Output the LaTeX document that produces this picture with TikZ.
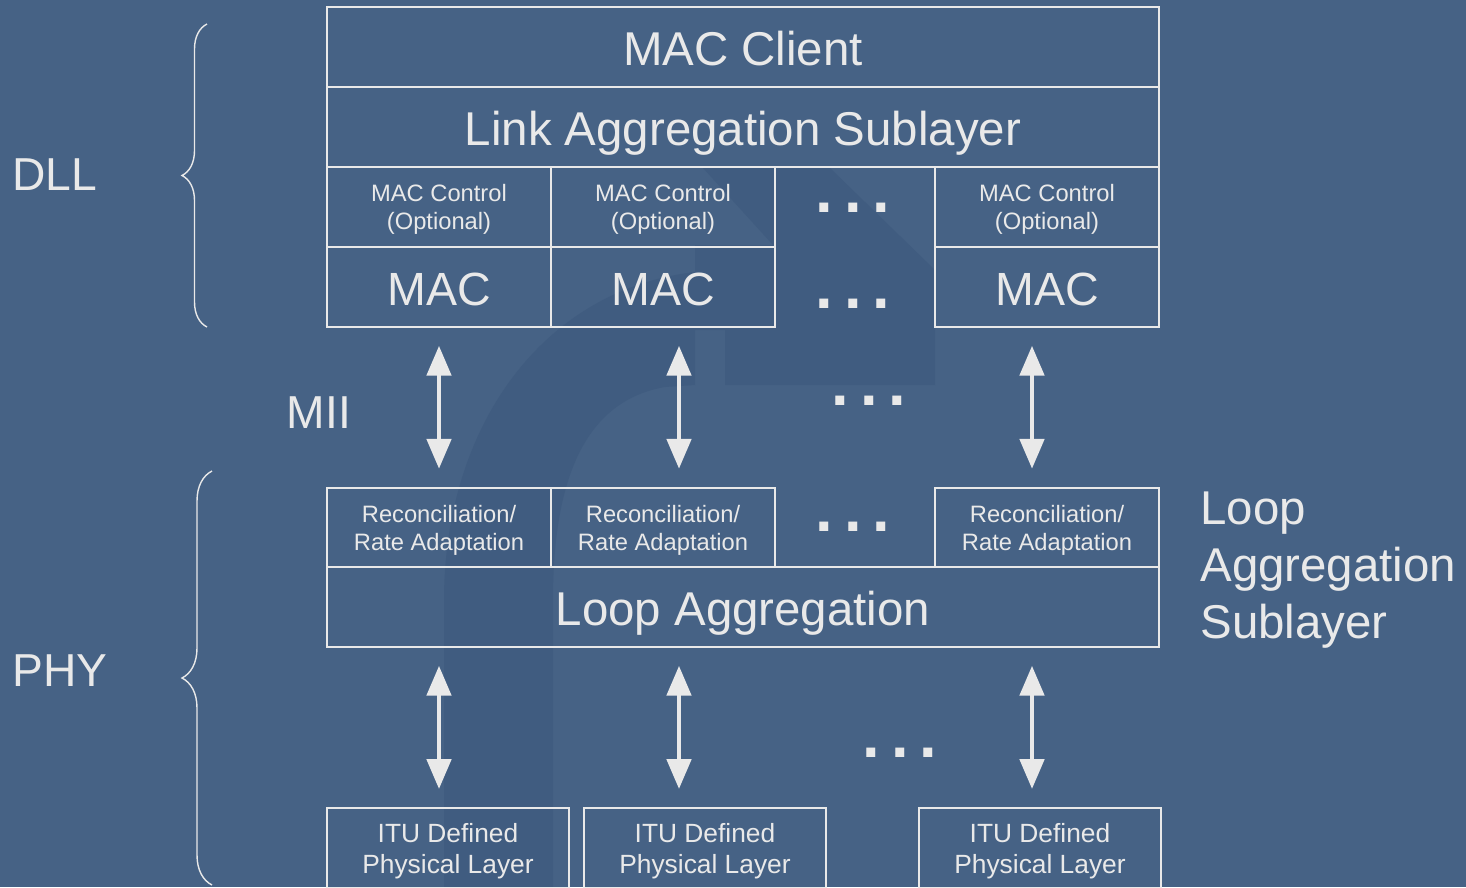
\documentclass[tikz,border=0pt]{standalone}
\usepackage{fontspec}
\setmainfont{Liberation Sans}
\usepackage{tikz}
\usetikzlibrary{arrows.meta}
\usetikzlibrary{decorations.pathreplacing}
\definecolor{slide}{HTML}{466285}
\definecolor{slidedark}{HTML}{405C80}
\definecolor{ink}{HTML}{E9E9E9}
\newcommand{\gapdots}{.\hspace{6.2pt}.\hspace{6.2pt}.}

\begin{document}
\begin{tikzpicture}[x=0.02cm, y=-0.02cm]
  \tikzset{LAYER/.style={draw=ink, text=ink, line width=1.1pt, inner sep=0pt, align=center}}
  \tikzset{WIDE/.style={LAYER, minimum width=16.64cm, minimum height=1.59cm, text height=21.4pt, text depth=0pt, font=\fontsize{27}{32}\selectfont}}
  \tikzset{CTL/.style={LAYER, minimum width=4.48cm, minimum height=1.59cm, text depth=0pt, font=\fontsize{13.5}{16}\selectfont}}
  \tikzset{MACBOX/.style={LAYER, minimum width=4.48cm, minimum height=1.59cm, text height=20.6pt, text depth=0pt, font=\fontsize{26.5}{32}\selectfont}}
  \tikzset{ITU/.style={LAYER, minimum width=4.84cm, minimum height=1.6cm, text depth=0pt, font=\fontsize{15}{17.6}\selectfont}}
  \tikzset{SIDE/.style={text=ink, inner sep=0pt, font=\fontsize{26.3}{32}\selectfont}}
  \tikzset{DOTS/.style={text=ink, inner sep=0pt, anchor=base, font=\fontsize{36}{36}\selectfont\bfseries}}
  \tikzset{BIARROW/.style={draw=ink, line width=2.8pt, {Triangle[width=13.6pt,length=17pt]}-{Triangle[width=13.6pt,length=17pt]}, shorten <=0.36cm, shorten >=0.36cm}}
  \tikzset{BRACE/.style={draw=ink, line width=0.8pt, decorate, decoration={brace, amplitude=#1}}}

  \useasboundingbox (0,0) rectangle (1466,887);
  \clip (0,0) rectangle (1466,887);
  \fill[slide] (0,0) rectangle (1466,887);

  % faint logo in the background
  \fill[slidedark] (444,887) -- (444,600) .. controls (444,430) and (540,290) .. (695,272) -- (695,385) -- (665,387) .. controls (590,400) and (553,470) .. (553,600) -- (553,887) -- cycle;
  \fill[slidedark] (703,168) -- (830,168) -- (935,270) -- (935,385) -- (725,385) -- (725,330) -- (695,330) -- (695,245) -- (773,245) -- cycle;

  \node[WIDE] (client)  at (743,47)  {MAC Client};
  \node[WIDE] (linkagg) at (743,127) {Link Aggregation Sublayer};

  \node[CTL] (ctl1) at (439,207)  {MAC Control\\(Optional)};
  \node[CTL] (ctl2) at (663,207)  {MAC Control\\(Optional)};
  \node[CTL] (ctl3) at (1047,207) {MAC Control\\(Optional)};

  \node[MACBOX] (mac1) at (439,287)  {MAC};
  \node[MACBOX] (mac2) at (663,287)  {MAC};
  \node[MACBOX] (mac3) at (1047,287) {MAC};

  \node[CTL] (rec1) at (439,527.5)  {Reconciliation/\\Rate Adaptation};
  \node[CTL] (rec2) at (663,527.5)  {Reconciliation/\\Rate Adaptation};
  \node[CTL] (rec3) at (1047,527.5) {Reconciliation/\\Rate Adaptation};

  \node[WIDE] (loopagg) at (743,607) {Loop Aggregation};

  \node[ITU] (itu1) at (448,848)  {ITU Defined\\Physical Layer};
  \node[ITU] (itu2) at (705,848)  {ITU Defined\\Physical Layer};
  \node[ITU] (itu3) at (1040,848) {ITU Defined\\Physical Layer};

  \node[DOTS] (gapctl) at (853,212) {\gapdots};
  \node[DOTS] (gapmac) at (853,308) {\gapdots};
  \node[DOTS] (gapmii) at (869,405) {\gapdots};
  \node[DOTS] (gaprec) at (853,531) {\gapdots};
  \node[DOTS] (gapitu) at (900,757) {\gapdots};

  \node[SIDE] (dll) at (55,175) {DLL};
  \node[SIDE] (phy) at (60,671) {PHY};
  \node[SIDE] (mii) at (319,413) {MII};
  \node[SIDE, anchor=west, align=left, font=\fontsize{27}{32.3}\selectfont] (lasub) at (1200,570) {Loop\\Aggregation\\Sublayer};

  \coordinate (col1) at (439,0);
  \coordinate (col2) at (679,0);
  \coordinate (col3) at (1032,0);

  \draw[BIARROW] (mac1.south -| col1) -- (rec1.north -| col1);
  \draw[BIARROW] (mac2.south -| col2) -- (rec2.north -| col2);
  \draw[BIARROW] (mac3.south -| col3) -- (rec3.north -| col3);

  \draw[BIARROW] (loopagg.south -| col1) -- (itu1.north -| col1);
  \draw[BIARROW] (loopagg.south -| col2) -- (itu2.north -| col2);
  \draw[BIARROW] (loopagg.south -| col3) -- (itu3.north -| col3);

  \coordinate (dlltop) at (207,24);
  \coordinate (dllbot) at (207,327);
  \coordinate (phytop) at (212,471);
  \coordinate (phybot) at (212,885);
  \draw[BRACE=0.5cm] (dllbot) -- (dlltop);
  \draw[BRACE=0.6cm] (phybot) -- (phytop);
\end{tikzpicture}
\end{document}
